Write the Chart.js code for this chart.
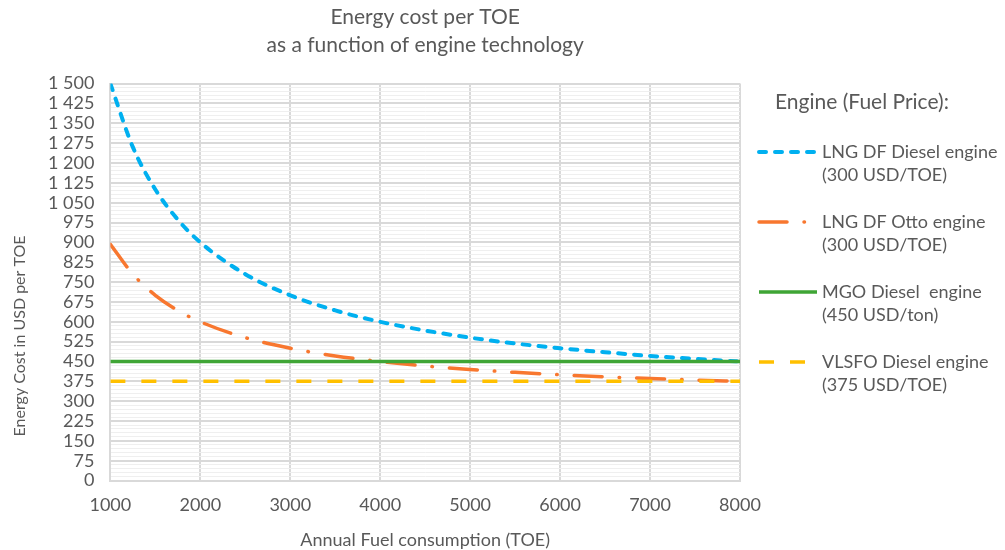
<!DOCTYPE html>
<html>
<head>
<meta charset="utf-8">
<script src="https://cdn.jsdelivr.net/npm/chart.js@4"></script>
<style>
html,body{margin:0;padding:0;background:#fff;}
#wrap{width:1005px;height:550px;position:relative;}
</style>
</head>
<body>
<div id="wrap"><canvas id="c" width="1005" height="550"></canvas></div>
<script>
// Data
const xValues      = [1000, 1250, 1500, 1750, 2000, 2500, 3000, 3500, 4000, 4500, 5000, 5500, 6000, 6500, 7000, 7500, 8000];
const lngDiesel    = [1500, 1260, 1100, 986, 900, 780, 700, 643, 600, 567, 540, 518, 500, 485, 471, 460, 450];
const lngOtto      = [893, 780, 700, 643, 600, 540, 500, 471, 450, 433, 420, 409, 400, 392, 386, 380, 375];
const mgoDiesel    = [450, 450, 450, 450, 450, 450, 450, 450, 450, 450, 450, 450, 450, 450, 450, 450, 450];
const vlsfoDiesel  = [375, 375, 375, 375, 375, 375, 375, 375, 375, 375, 375, 375, 375, 375, 375, 375, 375];
const seriesNames  = ["LNG DF Diesel engine", "LNG DF Otto engine", "MGO Diesel  engine", "VLSFO Diesel engine"];
const seriesPrices = ["(300 USD/TOE)", "(300 USD/TOE)", "(450 USD/ton)", "(375 USD/TOE)"];
const titleLines   = ["Energy cost per TOE", "as a function of engine technology"];
const legendTitle  = "Engine (Fuel Price):";
const xTitle       = "Annual Fuel consumption (TOE)";
const yTitle       = "Energy Cost in USD per TOE";

const FONT = "Lato, 'Liberation Sans', sans-serif";
const GREY = "#595959";

function pts(ys){ return xValues.map((x,i)=>({x:x, y:ys[i]})); }

const styles = [
  {color:"#00B0F0", width:4, dash:[7,9], cap:"round"},
  {color:"#F8772F", width:3.5, dash:[28,17,0.5,17], cap:"round"},
  {color:"#3FA535", width:3.5, dash:[], cap:"butt"},
  {color:"#FFC000", width:3.5, dash:[15,16], cap:"butt"}
];
const seriesData = [lngDiesel, lngOtto, mgoDiesel, vlsfoDiesel];

const datasets = seriesData.map((d,i)=>({
  label: seriesNames[i],
  data: pts(d),
  borderColor: styles[i].color,
  backgroundColor: styles[i].color,
  borderWidth: styles[i].width,
  borderDash: styles[i].dash,
  borderCapStyle: styles[i].cap,
  pointRadius: 0,
  cubicInterpolationMode: "monotone",
  fill: false
})).reverse();

const extras = {
  id: "extras",
  afterDraw(chart){
    const ctx = chart.ctx;
    ctx.save();
    ctx.fillStyle = GREY;
    ctx.font = "16px " + FONT;
    ctx.textAlign = "center";
    ctx.textBaseline = "middle";
    ctx.translate(20, 336);
    ctx.rotate(-Math.PI/2);
    ctx.fillText(yTitle, 0, 0);
    ctx.restore();

    ctx.save();
    ctx.fillStyle = GREY;
    ctx.font = "21px " + FONT;
    ctx.textAlign = "left";
    ctx.textBaseline = "middle";
    ctx.fillText(legendTitle, 775, 102);
    const ys = [152, 222, 292, 362];
    ctx.font = "18px " + FONT;
    for (let i=0;i<4;i++){
      const s = styles[i];
      ctx.save();
      ctx.strokeStyle = s.color;
      ctx.lineWidth = s.width;
      ctx.setLineDash(s.dash);
      ctx.lineCap = s.cap;
      ctx.beginPath();
      ctx.moveTo(759, ys[i]);
      ctx.lineTo(817, ys[i]);
      ctx.stroke();
      ctx.restore();
      ctx.fillText(seriesNames[i], 822, ys[i]);
      ctx.fillText(seriesPrices[i], 822, ys[i] + 23);
    }
    ctx.restore();
  }
};

new Chart(document.getElementById("c"), {
  type: "line",
  data: { datasets: datasets },
  plugins: [extras],
  options: {
    responsive: false,
    animation: false,
    layout: { padding: { left: 32, right: 265, top: 4, bottom: 0 } },
    plugins: {
      legend: { display: false },
      tooltip: { enabled: false },
      title: {
        display: true,
        text: titleLines,
        fullSize: false,
        color: GREY,
        font: { family: FONT, size: 21, weight: "normal", lineHeight: 1.3 },
        padding: { top: 0, bottom: 25 }
      }
    },
    scales: {
      x: {
        type: "linear",
        min: 1000, max: 8000,
        ticks: { stepSize: 1000, color: GREY, font: { family: FONT, size: 18 }, padding: 14, maxRotation: 0,
                 callback: (v) => String(v) },
        grid: { color: "#d9d9d9", lineWidth: 2, drawTicks: false },
        border: { color: "#d9d9d9", width: 2 },
        title: { display: true, text: xTitle, color: GREY, font: { family: FONT, size: 18, lineHeight: 1.1 }, padding: { top: 0, bottom: 0 } }
      },
      y: {
        min: 0, max: 1500,
        ticks: {
          stepSize: 15, autoSkip: false, color: GREY, padding: 16,
          font: { family: FONT, size: 18 },
          callback: (v) => (v % 75 === 0) ? String(v).replace(/\B(?=(\d{3})+(?!\d))/g, " ") : ""
        },
        grid: {
          drawTicks: false,
          color: (c) => (c.tick && c.tick.value % 75 === 0) ? "#d9d9d9" : "#efefef",
          lineWidth: (c) => (c.tick && c.tick.value % 75 === 0) ? 2 : 1
        },
        border: { color: "#d9d9d9", width: 2 }
      }
    }
  }
});
</script>
</body>
</html>
